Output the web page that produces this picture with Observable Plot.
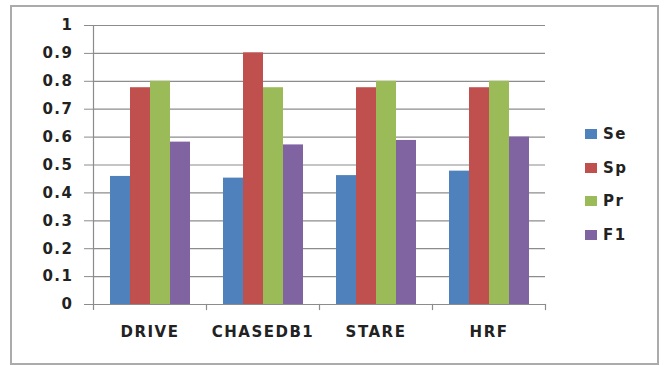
<!DOCTYPE html>
<html>
<head>
<meta charset="utf-8">
<script src="https://cdn.jsdelivr.net/npm/d3@7"></script>
<script src="https://cdn.jsdelivr.net/npm/@observablehq/plot@0.6"></script>
<style>
  html, body { margin: 0; padding: 0; background: #fff; }
  #wrap { position: relative; width: 664px; height: 365px; overflow: hidden; font-family: "DejaVu Sans", sans-serif; }
  #border { position: absolute; left: 10px; top: 5px; width: 645px; height: 356px; border: 2px solid #ababab; box-sizing: content-box; }
  #chart { position: absolute; left: 0; top: 0; }
  #chart svg text { letter-spacing: 1.5px; }
  #legend { position: absolute; left: 585px; top: 127px; }
  .item { display: flex; align-items: center; height: 14px; margin-bottom: 19.7px; font-size: 15px; font-weight: bold; color: #222; letter-spacing: 1.5px; }
  .sw { width: 12px; height: 10px; margin-right: 6px; }
</style>
</head>
<body>
<div id="wrap">
  <div id="border"></div>
  <div id="chart"></div>
  <div id="legend"></div>
</div>
<script>
const categories = ["DRIVE", "CHASEDB1", "STARE", "HRF"];
const series = ["Se", "Sp", "Pr", "F1"];
const colors = ["#4F81BD", "#C0504D", "#9BBB59", "#8064A2"];
const Se = [0.459, 0.453, 0.462, 0.478];
const Sp = [0.777, 0.902, 0.777, 0.777];
const Pr = [0.800, 0.777, 0.800, 0.800];
const F1 = [0.582, 0.572, 0.588, 0.600];
const yTicks = [0, 0.1, 0.2, 0.3, 0.4, 0.5, 0.6, 0.7, 0.8, 0.9, 1];

const valuesBySeries = {Se, Sp, Pr, F1};
const rows = [];
categories.forEach((c, i) => series.forEach(s => rows.push({cat: c, series: s, value: valuesBySeries[s][i]})));

const W = 664, H = 365, mT = 25, mB = 61, mL = 92, mR = 119;
const grid = "#8c8c8c";
const txt = "#222";

const chart = Plot.plot({
  width: W, height: H,
  marginTop: mT, marginBottom: mB, marginLeft: mL, marginRight: mR,
  style: {fontFamily: "DejaVu Sans, sans-serif", fontSize: "15px", fontWeight: "bold", background: "transparent"},
  fx: {domain: categories, padding: 0, axis: null},
  x: {domain: series, paddingInner: 0, paddingOuter: 0.7, axis: null},
  y: {domain: [0, 1], axis: null},
  color: {domain: series, range: colors},
  marks: [
    Plot.ruleY(yTicks, {stroke: grid, strokeWidth: 1.2}),
    Plot.barY(rows, {fx: "cat", x: "series", y: "value", fill: "series"}),
    Plot.frame({anchor: "left", facetAnchor: "left", stroke: grid, strokeWidth: 1.2, insetBottom: -5}),
    Plot.frame({anchor: "right", stroke: grid, strokeWidth: 1.2, insetTop: H - mT - mB, insetBottom: -5}),
    Plot.axisY(yTicks, {
      tickSize: 9, tickPadding: 11, stroke: grid, fill: txt, label: null,
      tickFormat: d => String(+d.toFixed(1))
    }),
    Plot.axisFx({anchor: "bottom", tickSize: 0, tickPadding: 22, fill: txt, label: null})
  ]
});
document.getElementById("chart").appendChild(chart);

const legend = document.getElementById("legend");
series.forEach((s, i) => {
  const it = document.createElement("div");
  it.className = "item";
  const sw = document.createElement("div");
  sw.className = "sw";
  sw.style.background = colors[i];
  const t = document.createElement("span");
  t.textContent = s;
  it.appendChild(sw);
  it.appendChild(t);
  legend.appendChild(it);
});
</script>
</body>
</html>
